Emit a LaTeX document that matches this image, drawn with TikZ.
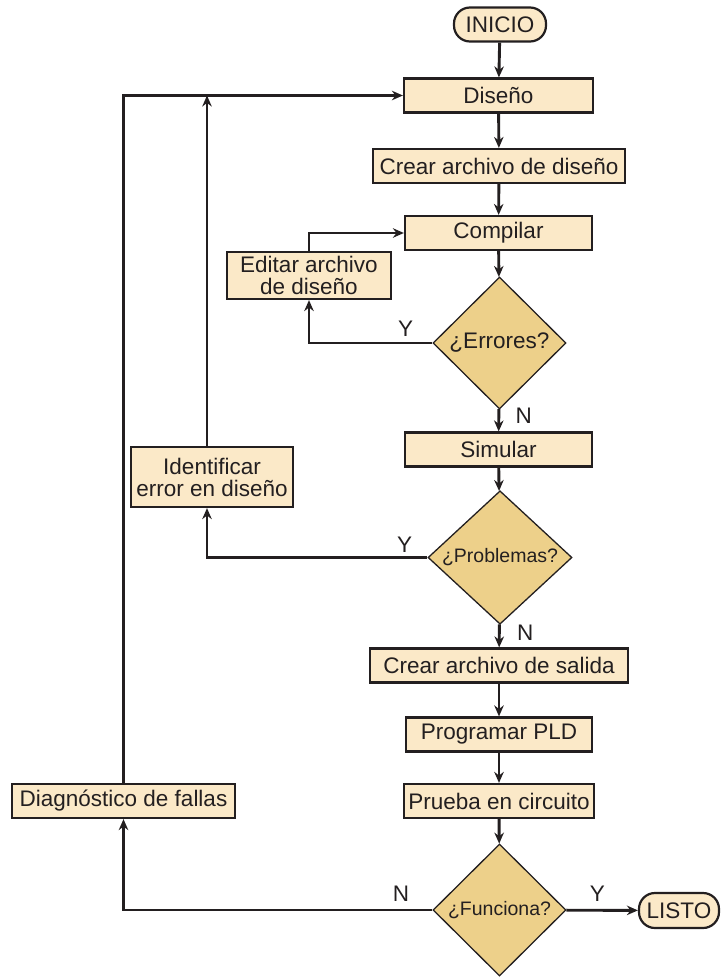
\documentclass[tikz,border=0pt]{standalone}
\usepackage{fontspec}
\setmainfont{Liberation Sans}
\usetikzlibrary{arrows.meta,shapes.geometric,positioning}
\definecolor{boxfill}{RGB}{251,233,200}
\definecolor{decfill}{RGB}{237,208,138}
\definecolor{ink}{RGB}{35,31,32}

\begin{document}
\begin{tikzpicture}[x=1pt,y=-1pt,>={Stealth[length=11pt,width=9.5pt]},
  font=\fontsize{22.5}{22}\selectfont,text=ink,
  proc/.style={draw=ink,line width=2.2pt,fill=boxfill,inner sep=2pt,align=center,minimum height=34pt},
  dec/.style={diamond,draw=ink,line width=1.3pt,fill=decfill,inner sep=0pt,aspect=1,minimum width=133pt,minimum height=132pt},
  term/.style={draw=ink,line width=2.2pt,fill=boxfill,rounded corners=16pt,minimum height=34pt},
  flow/.style={->,draw=ink,line width=2.9pt},
  lbl/.style={inner sep=1pt}]
\useasboundingbox (0,0) rectangle (721,977);
% main column
\node[term,minimum width=92pt] (ini) at (500,24.5) {INICIO};
\node[proc,minimum width=189pt] (dis) at (498.5,95.5) {Diseño};
\node[proc,minimum width=252pt] (cad) at (499,166) {Crear archivo de diseño};
\node[proc,minimum width=187pt] (comp) at (498.5,233) {Compilar};
\node[dec] (err) at (499.5,343) {¿Errores?};
\node[proc,minimum width=187pt] (sim) at (498.5,449.5) {Simular};
\node[dec,minimum width=144pt,minimum height=131pt,font=\fontsize{19.5}{19}\selectfont] (prob) at (500,557.5) {¿Problemas?};
\node[proc,minimum width=258pt] (cas) at (499,665.5) {Crear archivo de salida};
\node[proc,minimum width=186pt] (prog) at (499,734.5) {Programar PLD};
\node[proc,minimum width=190pt] (prue) at (499,801) {Prueba en circuito};
\node[dec,font=\fontsize{19.5}{19}\selectfont] (func) at (499.5,910) {¿Funciona?};
\node[term,minimum width=80pt,minimum height=35pt] (listo) at (679,910.5) {LISTO};
% side boxes
\node[proc,minimum width=164pt,minimum height=47pt] (edit) at (309,275.5) {Editar archivo\\de diseño};
\node[proc,minimum width=162pt,minimum height=60pt] (ident) at (212,477) {Identificar\\error en diseño};
\node[proc,minimum width=223pt] (diag) at (123.5,801) {Diagnóstico de fallas};
\coordinate (ibot) at ([xshift=-5pt]ident.south);
\coordinate (itop) at ([xshift=-5pt]ident.north);
\coordinate (ijoin) at (itop |- dis.west);
% flow down
\draw[flow] (ini) -- (dis);
\draw[flow] (dis) -- (cad);
\draw[flow] (cad) -- (comp);
\draw[flow] (comp) -- (err);
\draw[flow] (err) -- (sim);
\draw[flow] (sim) -- (prob);
\draw[flow] (prob) -- (cas);
\draw[flow] (cas) -- (prog);
\draw[flow] (prog) -- (prue);
\draw[flow] (prue) -- (func);
\draw[flow] (func) -- (listo);
% loops back
\draw[flow] (err.west) -| (edit.south);
\draw[flow] (edit.north) |- (comp.west);
\draw[flow] (prob.west) -| (ibot);
\draw[flow] (itop) -- (ijoin);
\draw[flow] (func.west) -| (diag.south);
\draw[flow] (diag.north) |- (dis.west);
% Y/N labels
\node[lbl,above left=5pt and 18pt of err.west] {Y};
\node[lbl,below right=-3pt and 15pt of err.south] {N};
\node[lbl,above left=4pt and 14pt of prob.west] {Y};
\node[lbl,below right=-1pt and 16pt of prob.south] {N};
\node[lbl,above left=7pt and 22pt of func.west] {N};
\node[lbl,above right=7pt and 22pt of func.east] {Y};
\end{tikzpicture}
\end{document}
